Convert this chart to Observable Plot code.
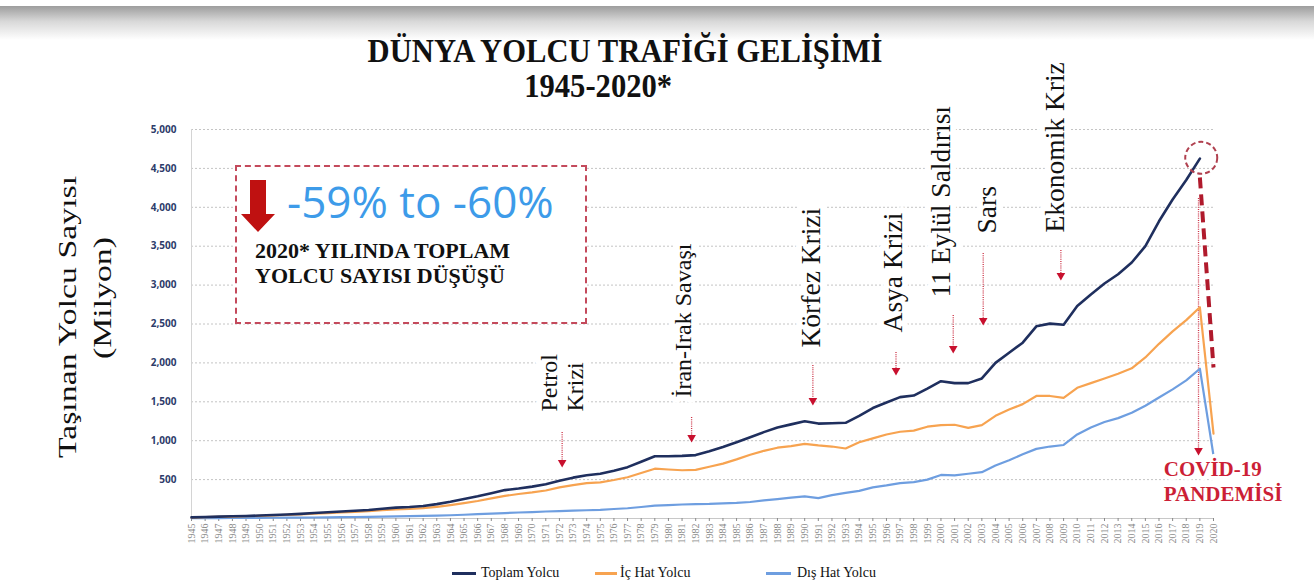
<!DOCTYPE html>
<html><head><meta charset="utf-8">
<script src="https://cdn.jsdelivr.net/npm/d3@7"></script>
<script src="https://cdn.jsdelivr.net/npm/@observablehq/plot@0.6"></script>
<style>
body{margin:0;background:#fff;}
#wrap{position:relative;width:1314px;height:584px;overflow:hidden;background:#fff;font-family:"Liberation Serif","Times New Roman",serif;color:#111;}
#band{position:absolute;left:0;top:6px;width:1314px;height:34px;background:linear-gradient(to bottom,#9d9d9d,#d8d8d8 45%,#ffffff);}
#chart{position:absolute;left:0;top:0;}
.abs{position:absolute;white-space:nowrap;line-height:1;}
.t1{font-weight:bold;font-size:34px;transform-origin:center;}
#box{position:absolute;left:235px;top:165px;width:348px;height:155px;border:2px dashed #c44a5c;background:#fff;}
.big{font-family:"Open Sans",sans-serif;font-size:44px;color:#3d9be9;}
.bx{font-weight:bold;font-size:22px;color:#111;}
.yl{font-size:26px;transform:translate(-50%,-50%) rotate(-90deg) scaleX(1.3);}
.leg{font-size:14px;}
.sw{position:absolute;height:3px;}
</style></head>
<body><div id="wrap">
<div id="band"></div>
<div id="chart"></div>
<div class="abs t1" id="ti1">DÜNYA YOLCU TRAFİĞİ GELİŞİMİ</div>
<div class="abs t1" id="ti2">1945-2020*</div>
<div id="box"></div>
<svg class="abs" style="left:240px;top:179px" width="36" height="54"><path d="M10,1 H26 V35 H35 L18,53 L1,35 H10 Z" fill="#bf1111"/></svg>
<div class="abs big" style="left:287px;top:179px">-59% to -60%</div>
<div class="abs bx" style="left:255px;top:240px">2020* YILINDA TOPLAM</div>
<div class="abs bx" style="left:255px;top:265px">YOLCU SAYISI DÜŞÜŞÜ</div>
<div class="abs yl" style="left:68px;top:317px">Taşınan Yolcu Sayısı</div>
<div class="abs yl" style="left:103px;top:298px">(Milyon)</div>
<div class="sw" style="left:452px;top:572px;width:24px;background:#1f2f5e"></div>
<div class="abs leg" style="left:481px;top:566px">Toplam Yolcu</div>
<div class="sw" style="left:595px;top:572px;width:22px;background:#f7a350"></div>
<div class="abs leg" style="left:620px;top:566px">İç Hat Yolcu</div>
<div class="sw" style="left:766px;top:572px;width:25px;background:#6e9ee0"></div>
<div class="abs leg" style="left:797px;top:566px">Dış Hat Yolcu</div>
</div>
<script>
const years = [1945,1946,1947,1948,1949,1950,1951,1952,1953,1954,1955,1956,1957,1958,1959,1960,1961,1962,1963,1964,1965,1966,1967,1968,1969,1970,1971,1972,1973,1974,1975,1976,1977,1978,1979,1980,1981,1982,1983,1984,1985,1986,1987,1988,1989,1990,1991,1992,1993,1994,1995,1996,1997,1998,1999,2000,2001,2002,2003,2004,2005,2006,2007,2008,2009,2010,2011,2012,2013,2014,2015,2016,2017,2018,2019,2020];
// Toplam Yolcu (1945-2019)
const toplam = [15,20,24,28,33,38,45,52,60,70,80,90,100,110,125,140,148,160,185,215,250,285,325,365,385,410,440,485,525,555,575,615,660,730,800,800,805,815,865,920,980,1045,1110,1170,1210,1250,1220,1225,1230,1320,1420,1490,1560,1580,1670,1765,1740,1740,1800,2000,2130,2260,2470,2505,2490,2730,2880,3020,3140,3290,3500,3820,4100,4350,4625];
// İç Hat Yolcu (1945-2020)
const icHat = [12,17,21,25,29,33,40,46,54,62,70,78,86,94,106,118,122,133,150,173,198,225,258,290,315,335,360,400,430,455,465,495,530,585,640,630,620,625,665,705,760,820,870,910,930,960,940,925,900,980,1030,1080,1115,1130,1180,1200,1205,1165,1200,1320,1400,1470,1575,1575,1550,1680,1740,1800,1860,1930,2070,2245,2405,2550,2715,1090];
// Dış Hat Yolcu (1945-2020)
const disHat = [3,5,6,7,8,9,10,11,12,13,15,17,19,21,24,27,30,33,37,42,48,55,62,70,77,83,90,96,102,106,112,122,132,148,165,172,180,185,188,195,200,212,232,250,268,285,262,300,330,355,400,425,455,468,500,560,555,575,595,680,750,825,895,925,945,1080,1170,1240,1290,1360,1450,1555,1660,1775,1925,810];
const yTicks = [500,1000,1500,2000,2500,3000,3500,4000,4500,5000];

// annotations (label, x in years, y in million passengers)
const eventLabels = [
  {text:"Petrol\nKrizi", x:1972.15, y:1375, size:24},
  {text:"İran-Irak Savaşı", x:1981.0, y:1555, size:24},
  {text:"Körfez Krizi", x:1990.4, y:2198, size:27.5},
  {text:"Asya Krizi", x:1996.45, y:2391, size:27.5},
  {text:"11 Eylül Saldırısı", x:1999.95, y:2841, size:27.5},
  {text:"Sars", x:2003.3, y:3663, size:27.5},
  {text:"Ekonomik Kriz", x:2008.3, y:3676, size:27.5}
];
const eventArrows = [
  {x:1972.2, y1:1105, y2:720},
  {x:1981.7, y1:1298, y2:1041},
  {x:1990.6, y1:1967, y2:1517},
  {x:1996.7, y1:2134, y2:1902},
  {x:2000.9, y1:2609, y2:2185},
  {x:2003.1, y1:3406, y2:2545},
  {x:2008.8, y1:3445, y2:3123},
  {x:2018.9, y1:4113, y2:874}
];
const covidDrop = [{x1:2019.0, y1:4383, x2:2020.0, y2:1941}];
const covidPeak = [{x:2019.1, y:4636}];
const covidLabel = [{text:"COVİD-19\nPANDEMİSİ", x:2016.35, y:780}];

const serif = "'Liberation Serif','Times New Roman',serif";
const plot = Plot.plot({
  width:1314, height:584,
  marginLeft:191, marginRight:101, marginTop:129, marginBottom:66,
  style:{background:"transparent", overflow:"visible"},
  x:{domain:[1945,2020]},
  y:{domain:[0,5000]},
  marks:[
    Plot.gridY(yTicks, {stroke:"#c4c4c4", strokeOpacity:1, strokeDasharray:"2,2"}),
    Plot.ruleY([0], {stroke:"#c8c8c8"}),
    Plot.ruleX([1945], {stroke:"#d4d4d4"}),
    Plot.axisY({ticks:yTicks, tickFormat:d3.format(","), tickSize:0, tickPadding:15, fontSize:10, fontWeight:"bold", color:"#2d3c6a", fontFamily:"'Open Sans',sans-serif", label:null}),
    Plot.axisX({ticks:years, tickFormat:d=>String(d), tickRotate:-90, tickSize:3, tickPadding:2, fontSize:10, color:"#8a8a8a", fontFamily:serif, label:null}),
    Plot.text(eventLabels, {x:"x", y:"y", text:"text", rotate:-90, textAnchor:"start", lineAnchor:"middle", lineHeight:1.1, fontSize:d=>d.size, fontFamily:serif, fill:"#111", stroke:"white", strokeWidth:12}),
    Plot.ruleX(eventArrows, {x:"x", y1:"y1", y2:"y2", stroke:"#cc3347", strokeWidth:1.3, strokeDasharray:"1,1.2"}),
    Plot.dot(eventArrows, {x:"x", y:"y2", symbol:"triangle", rotate:180, r:3.2, fill:"#c8102e", stroke:"none"}),
    Plot.line(disHat, {x:(d,i)=>years[i], y:d=>d, stroke:"#6e9ee0", strokeWidth:2.2}),
    Plot.line(icHat, {x:(d,i)=>years[i], y:d=>d, stroke:"#f7a350", strokeWidth:2.2}),
    Plot.line(toplam, {x:(d,i)=>years[i], y:d=>d, stroke:"#1f2f5e", strokeWidth:2.6}),
    Plot.link(covidDrop, {x1:"x1", y1:"y1", x2:"x2", y2:"y2", stroke:"#b01a2c", strokeWidth:4, strokeDasharray:"11,6"}),
    Plot.dot(covidPeak, {x:"x", y:"y", r:16, stroke:"#b0404f", strokeWidth:2, strokeDasharray:"5,3", fill:"none"}),
    Plot.text(covidLabel, {x:"x", y:"y", text:"text", textAnchor:"start", lineAnchor:"top", lineHeight:1.2, fontSize:21, fontWeight:"bold", fontFamily:serif, fill:"#cc1f36", stroke:"white", strokeWidth:8})
  ]
});
document.getElementById("chart").appendChild(plot);

// place title lines (centers measured from reference)
function center(id, cx, top, sx){
  const el = document.getElementById(id);
  el.style.top = top + "px";
  const w = el.getBoundingClientRect().width;
  el.style.left = (cx - w/2) + "px";
  el.style.transform = "scaleX(" + sx + ")";
}
center("ti1", 625, 34, 0.9);
center("ti2", 598, 69, 0.9);
</script>
</body></html>
